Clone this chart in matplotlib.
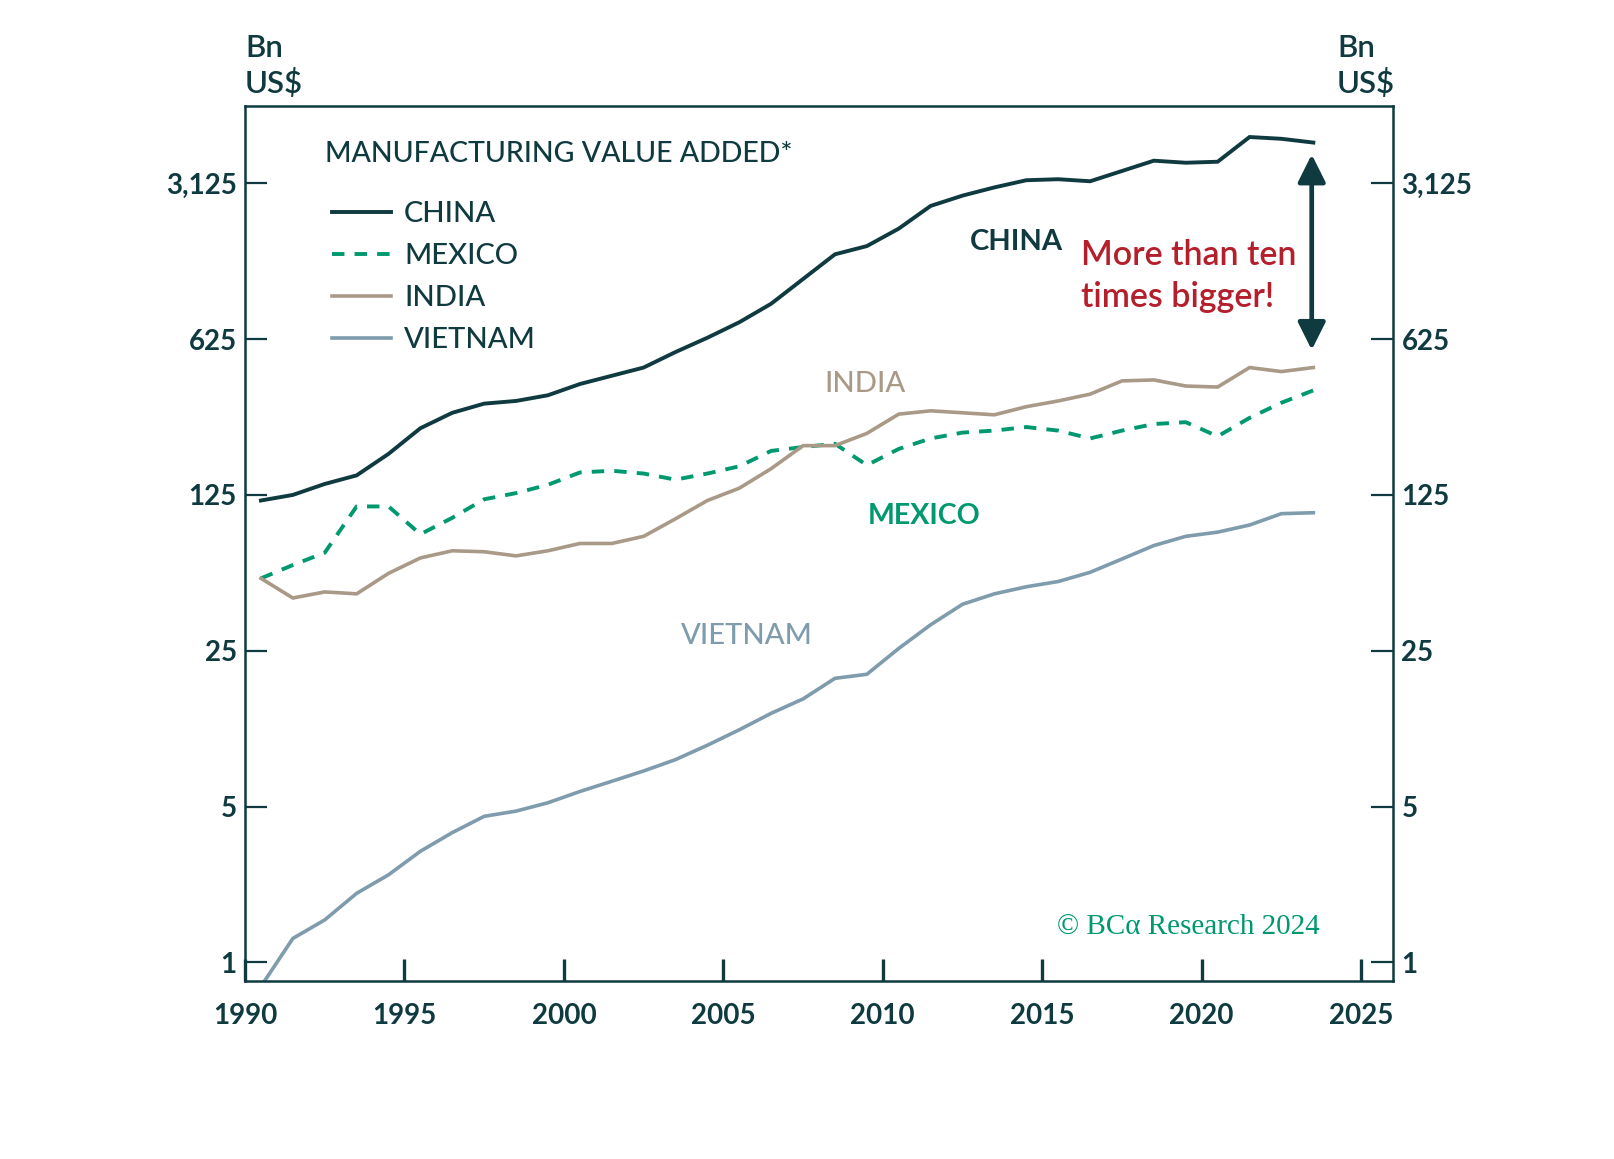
import numpy as np
import matplotlib
matplotlib.use("Agg")
import matplotlib.pyplot as plt
from matplotlib.ticker import FixedLocator, FuncFormatter, NullLocator

plt.rcParams['font.family'] = ['Lato', 'DejaVu Sans']

# annual data, plotted at mid-year
years = np.arange(1990, 2024)
china = [118, 125, 140, 153, 191, 249, 292, 321, 330, 350, 393, 428, 466, 547,
         634, 744, 901, 1163, 1501, 1634, 1957, 2474, 2752, 2996, 3226, 3260,
         3192, 3549, 3948, 3865, 3905, 5041, 4949, 4760]
mexico = [52.8, 60.6, 68.8, 111, 111, 83.3, 98.7, 119.5, 127.4, 138.8, 157.6,
          160.5, 155.9, 146.4, 155.9, 168, 197, 205, 212, 170, 201, 224, 238,
          243, 252, 243, 224, 243, 260, 265, 229, 277, 324, 368]
india = [52.8, 43.1, 45.9, 45.0, 55.6, 65.2, 70.2, 69.5, 66.6, 70.2, 75.7, 75.7,
         81.5, 97.7, 118, 134, 164, 208, 208, 236, 288, 298, 292, 286, 311, 330,
         354, 406, 410, 385, 381, 466, 447, 466]
vietnam = [0.78, 1.28, 1.55, 2.04, 2.47, 3.15, 3.82, 4.52, 4.77, 5.2, 5.84, 6.49,
           7.22, 8.12, 9.42, 11.05, 13.1, 15.2, 18.8, 19.6, 25.6, 32.7, 40.4,
           45.0, 48.4, 51.1, 56.2, 64.5, 74.1, 81.5, 85.1, 91.6, 103, 104]
y_ticks = [1, 5, 25, 125, 625, 3125]
x_ticks = [1990, 1995, 2000, 2005, 2010, 2015, 2020, 2025]

DARK = '#0f3a3f'
GREEN = '#00996f'
TAN = '#a99a88'
BLUE = '#7f9cad'
RED = '#b51f2c'

fig = plt.figure(figsize=(16.14, 11.59), dpi=100)
ax = fig.add_axes([0.1518, 0.1536, 0.7113, 0.755])

x = years + 0.5
ax.plot(x, china, color=DARK, lw=2.8, label='CHINA', solid_joinstyle='miter')
ax.plot(x, mexico, color=GREEN, lw=2.8, ls=(0, (3.2, 2.6)), label='MEXICO')
ax.plot(x, india, color=TAN, lw=2.6, label='INDIA')
ax.plot(x, vietnam, color=BLUE, lw=2.6, label='VIETNAM')

ax.set_yscale('log', base=5)
ax.set_ylim(0.825, 6950)
ax.set_xlim(1990, 2026)
ax.yaxis.set_major_locator(FixedLocator(y_ticks))
ax.yaxis.set_minor_locator(NullLocator())
ax.yaxis.set_major_formatter(FuncFormatter(lambda v, p: f'{int(round(v)):,}'))
ax.xaxis.set_major_locator(FixedLocator(x_ticks))
ax.xaxis.set_major_formatter(FuncFormatter(lambda v, p: f'{int(v)}'))

for s in ax.spines.values():
    s.set_color(DARK)
    s.set_linewidth(1.8)

ax.tick_params(axis='y', which='major', direction='in', length=16, width=1.6,
               color=DARK, left=True, right=True, labelleft=True,
               labelright=True, labelsize=20, labelcolor=DARK, pad=6)
ax.tick_params(axis='x', which='major', direction='in', length=16, width=2.4,
               color=DARK, labelsize=20, labelcolor=DARK, pad=16)
for lab in ax.get_xticklabels() + ax.get_yticklabels():
    lab.set_fontweight('bold')

fig.text(0.1518, 0.971, 'Bn\nUS$', ha='left', va='top', fontsize=22.5,
         color=DARK, linespacing=1.25, fontweight='semibold')
fig.text(0.8284, 0.971, 'Bn\nUS$', ha='left', va='top', fontsize=22.5,
         color=DARK, linespacing=1.25, fontweight='semibold')

ax.text(0.07, 0.96, 'MANUFACTURING VALUE ADDED*', transform=ax.transAxes,
        ha='left', va='top', fontsize=20.5, color=DARK, fontweight='medium')
leg = ax.legend(loc='upper left', bbox_to_anchor=(0.066, 0.905), frameon=False,
                fontsize=21, handlelength=2.0, handletextpad=0.45,
                labelspacing=0.55, borderaxespad=0)
for t in leg.get_texts():
    t.set_color(DARK)
    t.set_fontweight('medium')

ax.text(2014.2, 1704, 'CHINA', ha='center', va='center', fontsize=21,
        color=DARK, fontweight='bold')
ax.text(2009.45, 393, 'INDIA', ha='center', va='center', fontsize=21,
        color=TAN, fontweight='medium')
ax.text(2011.3, 101, 'MEXICO', ha='center', va='center', fontsize=20.5,
        color=GREEN, fontweight='bold')
ax.text(2005.74, 29.1, 'VIETNAM', ha='center', va='center', fontsize=21,
        color=BLUE, fontweight='medium')
ax.text(2016.2, 1200, 'More than ten\ntimes bigger!', ha='left', va='center',
        fontsize=24.5, color=RED, fontweight='semibold', linespacing=1.35)
ax.annotate('', xy=(2023.45, 559), xytext=(2023.45, 4210),
            arrowprops=dict(arrowstyle='<|-|>', lw=3.4, color=DARK,
                            mutation_scale=42, shrinkA=0, shrinkB=0))
ax.text(2023.7, 1.45, '© BCα Research 2024', ha='right', va='center',
        fontsize=21, color=GREEN, family=['Liberation Serif', 'DejaVu Serif'])

fig.savefig('out.png', dpi=100)
